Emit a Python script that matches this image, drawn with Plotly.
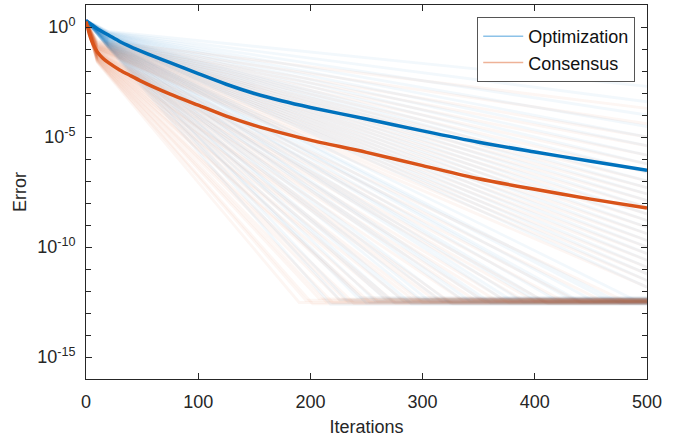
import plotly.graph_objects as go

# ---------------- data ----------------
n_iter = 500

# mean error curves (thick lines)
opt_iter = [0, 5, 10, 20, 30, 40, 50, 60, 75, 100, 125, 150, 175, 200, 250, 300, 350, 400, 450, 500]
opt_mean = [1.86, 1.26, 0.83, 0.43, 0.22, 0.126, 0.076, 0.047, 0.024, 7.6e-3, 2.5e-3, 9.5e-4,
            4.3e-4, 2.2e-4, 6.6e-5, 1.9e-5, 5.8e-6, 2.1e-6, 7.9e-7, 3.1e-7]

con_iter = [0, 1, 2, 3, 5, 7, 10, 15, 20, 30, 40, 50, 60, 75, 100, 125, 150, 175, 200, 250,
            300, 350, 400, 450, 500]
con_mean = [1.78, 1.2, 0.76, 0.48, 0.24, 0.141, 0.0759, 0.038, 0.024, 0.0112, 6.0e-3, 3.3e-3,
            1.9e-3, 8.9e-4, 2.8e-4, 8.9e-5, 3.4e-5, 1.5e-5, 7.2e-6, 2.0e-6, 5.0e-7, 1.26e-7,
            4.2e-8, 1.5e-8, 5.9e-9]

# individual runs (faint lines): error at start, error at a knee iteration, iteration where
# the run reaches the numerical floor (None = not within 500), and error at iteration 500
opt_run_start = 2.0
opt_knee_iter = 20
opt_run_knee = [0.112, 0.115, 0.118, 0.121, 0.124, 0.127, 0.13, 0.134, 0.137, 0.141, 0.145,
                0.149, 0.153, 0.157, 0.161, 0.166, 0.17, 0.175, 0.18, 0.185, 0.19, 0.195, 0.2,
                0.206, 0.212, 0.218, 0.224, 0.23, 0.237, 0.245,
                0.25, 0.26, 0.27, 0.28, 0.29, 0.3, 0.31, 0.32, 0.33, 0.34, 0.35, 0.36, 0.37,
                0.38, 0.39, 0.4, 0.41, 0.43, 0.45, 0.47, 0.49, 0.51, 0.53, 0.56, 0.59, 0.63]
opt_run_floor_iter = [218, 226, 234, 242, 250, 258, 266, 274, 282, 290, 298, 307, 316, 325, 334,
                      343, 352, 361, 370, 380, 390, 400, 410, 420, 431, 442, 453, 465, 477, 490
                      ] + [None] * 26
opt_run_err500 = [2.5e-13, 4e-13, 3.2e-13, 5e-13, 2.8e-13, 3.5e-13, 4.5e-13, 3e-13, 3.8e-13,
                  2.6e-13, 4.2e-13, 3.2e-13, 3.5e-13, 2.7e-13, 4.5e-13, 3.3e-13, 4e-13, 2.8e-13,
                  4.8e-13, 3.5e-13, 3.1e-13, 4e-13, 2.9e-13, 3.6e-13, 4.4e-13, 3e-13, 3.4e-13,
                  3.9e-13, 2.7e-13, 3.7e-13,
                  1.5e-12, 3e-12, 6e-12, 1.2e-11, 2.5e-11, 5e-11, 1e-10, 2e-10, 4e-10, 8e-10,
                  1.6e-9, 3.2e-9, 6.5e-9, 1.3e-8, 2.6e-8, 5e-8, 1e-7, 2.5e-7, 6e-7, 1.5e-6,
                  4e-6, 1e-5, 3e-5, 1e-4, 4e-4, 2e-3]

con_run_start = 1.8
con_knee_iter = 10
con_run_knee = [0.0251, 0.0262, 0.0273, 0.0285, 0.0297, 0.031, 0.0323, 0.0337, 0.035, 0.0364,
                0.0378, 0.0393, 0.0408, 0.0423, 0.0439, 0.0455, 0.0472, 0.049, 0.0508, 0.0527,
                0.0546, 0.0566, 0.0586, 0.0607, 0.0628, 0.065, 0.0672, 0.0695, 0.0719, 0.0745,
                0.0775, 0.0832,
                0.087, 0.09, 0.093, 0.096, 0.1, 0.103, 0.107, 0.11, 0.114, 0.118, 0.122, 0.126,
                0.13, 0.135, 0.14, 0.145, 0.151, 0.158, 0.166, 0.175, 0.185, 0.198, 0.215, 0.24]
con_run_floor_iter = [190, 196, 202, 208, 214, 220, 226, 232, 239, 246, 253, 260, 268, 276, 284,
                      292, 300, 309, 318, 327, 336, 346, 356, 366, 377, 388, 400, 412, 424, 440,
                      458, 480] + [None] * 24
con_run_err500 = [3e-13, 3.8e-13, 2.6e-13, 4.4e-13, 3.3e-13, 2.9e-13, 4e-13, 3.6e-13, 2.7e-13,
                  4.8e-13, 3.1e-13, 3.5e-13, 4.2e-13, 2.8e-13, 3.4e-13, 3.9e-13, 3e-13, 4.6e-13,
                  3.3e-13, 2.6e-13, 3.7e-13, 4.1e-13, 3.2e-13, 3.6e-13, 2.9e-13, 4.3e-13,
                  3.4e-13, 2.7e-13, 3.8e-13, 3.1e-13, 4e-13, 3.5e-13,
                  1.5e-12, 3e-12, 6e-12, 1.2e-11, 2.5e-11, 5e-11, 1e-10, 2e-10, 4e-10, 8e-10,
                  1.6e-9, 3.2e-9, 6.5e-9, 1.3e-8, 2.6e-8, 5e-8, 1e-7, 2.5e-7, 6e-7, 1.5e-6,
                  4e-6, 1e-5, 4e-5, 2e-4]

series_names = ["Optimization", "Consensus"]
x_ticks = [0, 100, 200, 300, 400, 500]
y_ticks = [1, 1e-5, 1e-10, 1e-15]
y_tick_text = ["10<sup>0</sup>", "10<sup>-5</sup>", "10<sup>-10</sup>", "10<sup>-15</sup>"]

# ---------------- styles ----------------
BLUE = "#0072BD"
ORANGE = "#D95319"
BLUE_FAINT = "rgba(0,114,189,0.05)"
ORANGE_FAINT = "rgba(217,83,25,0.05)"
BLUE_LEG = "#8cc2e8"
ORANGE_LEG = "#eeb297"
FONT = "Liberation Sans, Arial, Helvetica, sans-serif"
AX = "#262626"

fig = go.Figure()


def add_runs(start, knee_iter, knees, floors, ends, color):
    for k, f, e in zip(knees, floors, ends):
        xs = [0, knee_iter]
        ys = [start, k]
        if f is not None:
            xs.append(f)
            ys.append(e)
        xs.append(n_iter)
        ys.append(e)
        fig.add_trace(go.Scatter(x=xs, y=ys, mode="lines",
                                 line=dict(color=color, width=2.8),
                                 showlegend=False, hoverinfo="skip"))


add_runs(opt_run_start, opt_knee_iter, opt_run_knee, opt_run_floor_iter, opt_run_err500, BLUE_FAINT)
add_runs(con_run_start, con_knee_iter, con_run_knee, con_run_floor_iter, con_run_err500, ORANGE_FAINT)

fig.add_trace(go.Scatter(x=opt_iter, y=opt_mean, mode="lines",
                         line=dict(color=BLUE, width=3.5, shape="spline", smoothing=0.8),
                         showlegend=False))
fig.add_trace(go.Scatter(x=con_iter, y=con_mean, mode="lines",
                         line=dict(color=ORANGE, width=3.5, shape="spline", smoothing=0.8),
                         showlegend=False))

# legend entries (represent the individual runs)
fig.add_trace(go.Scatter(x=[None], y=[None], mode="lines", name=series_names[0],
                         line=dict(color=BLUE_LEG, width=1.5)))
fig.add_trace(go.Scatter(x=[None], y=[None], mode="lines", name=series_names[1],
                         line=dict(color=ORANGE_LEG, width=1.5)))

fig.update_layout(
    width=686, height=440,
    margin=dict(l=86, r=39, t=5, b=61),
    paper_bgcolor="white", plot_bgcolor="white",
    font=dict(family=FONT, size=18, color=AX),
    showlegend=True,
    legend=dict(x=0.979, y=0.968, xanchor="right", yanchor="top",
                bgcolor="white", bordercolor="#555555", borderwidth=1,
                font=dict(size=18, color="#111111"),
                itemwidth=40, tracegroupgap=0),
)

fig.update_xaxes(
    range=[0, n_iter], tickvals=x_ticks, ticktext=[str(v) for v in x_ticks],
    ticks="inside", ticklen=6, tickcolor=AX, tickwidth=1,
    showline=True, linecolor=AX, linewidth=1, mirror="ticks",
    showgrid=False, zeroline=False, automargin=False,
    title=dict(text="Iterations", font=dict(size=18), standoff=9),
    ticklabelstandoff=6,
)
fig.update_yaxes(
    type="log", range=[-16, 1], tickvals=y_ticks, ticktext=y_tick_text,
    ticks="inside", ticklen=6, tickcolor=AX, tickwidth=1,
    minor=dict(tickvals=[10.0 ** k for k in range(-16, 2)], ticks="inside",
               ticklen=5, tickcolor=AX, tickwidth=1, showgrid=False),
    showline=True, linecolor=AX, linewidth=1, mirror="ticks",
    showgrid=False, zeroline=False, automargin=False,
    title=dict(text="Error", font=dict(size=18), standoff=5),
    ticklabelstandoff=6,
)

fig.write_html("out.html", config={"displayModeBar": False},
               post_script="document.body.style.margin='0';document.body.style.padding='0';")
